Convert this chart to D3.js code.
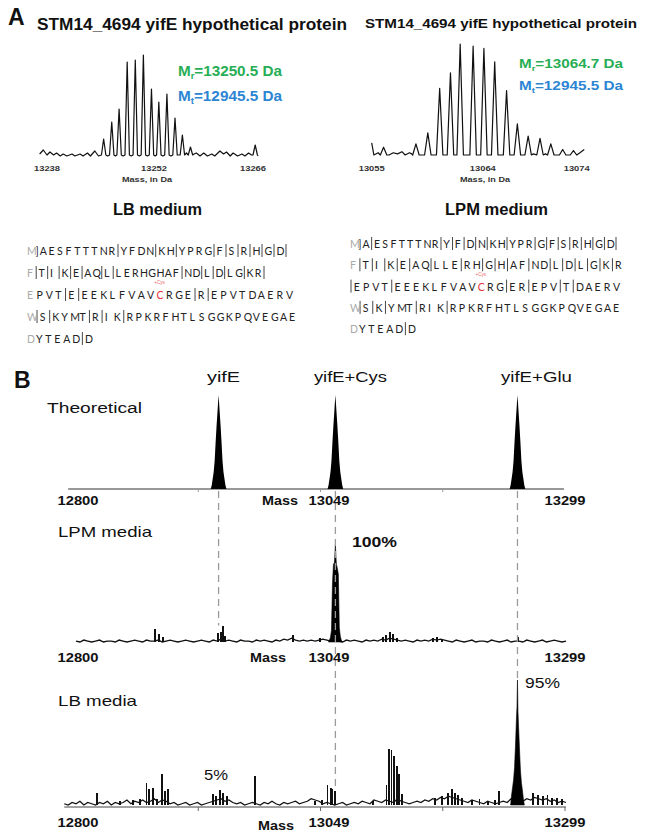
<!DOCTYPE html>
<html>
<head>
<meta charset="utf-8">
<script src="https://cdn.jsdelivr.net/npm/d3@7"></script>
<style>
  body { margin: 0; background: #fff; }
  svg { display: block; }
  text { font-family: Arial, "Liberation Sans", sans-serif; }
</style>
</head>
<body>
<svg id="fig" width="645" height="837"></svg>
<script>
// ---------- panel A: isotope peaks and baseline ripple, [mass (Da), relative intensity] ----------
const lbIsotopes = [[13245.7,16],[13246.8,33],[13247.8,46],[13248.9,93],[13250.0,95],[13251.1,100],
  [13252.2,66],[13253.2,53],[13254.3,61],[13255.4,37],[13256.4,20],[13257.5,8],[13266.3,10]];
const lbRipple = [[13237.0,1],[13237.5,5],[13238.0,0],[13238.4,3],[13238.9,0],[13239.3,2],[13239.8,-1],
  [13240.2,1],[13240.7,-1],[13241.4,1],[13241.8,-1],[13242.5,1],[13242.9,-1],[13243.5,2],[13243.9,-1],
  [13244.5,4],[13245.0,-1],[13246.25,-1],[13247.3,-1],[13248.35,-1],[13249.45,-1],[13250.55,-1],
  [13251.65,-1],[13252.7,-1],[13253.75,-1],[13254.85,-1],[13255.9,0],[13256.95,2],[13258.0,1],
  [13258.3,2],[13258.8,-1],[13259.3,2],[13259.8,-1],[13260.4,1],[13260.8,-1],[13261.5,4],[13262.0,1],
  [13262.4,3],[13262.9,-1],[13263.3,2],[13263.9,-1],[13264.5,1],[13264.9,-1],[13265.4,2],[13265.8,0],
  [13266.7,-1]];
const lpmIsotopes = [[13056.1,7],[13059.1,10],[13060.2,20],[13061.3,60],[13062.3,74],[13063.2,100],
  [13064.4,98],[13065.4,96],[13066.4,84],[13067.5,58],[13068.5,28],[13069.5,17],[13070.6,15],
  [13071.6,10],[13072.7,5],[13073.7,4]];
const lpmRipple = [[13055.0,11],[13055.2,0],[13055.6,2],[13056.6,0],[13057.0,2],[13057.4,1],[13057.8,3],
  [13058.1,0],[13058.5,2],[13058.7,1],[13059.6,0],[13060.7,0],[13061.8,0],[13062.8,0],[13063.8,0],
  [13064.9,0],[13065.9,0],[13066.9,0],[13068.0,0],[13069.0,0],[13070.0,1],[13071.1,1],[13072.1,0],
  [13073.2,0],[13074.0,0],[13074.3,2],[13074.7,5]];
const lbTicks = [13238, 13252, 13266];
const lpmTicks = [13055, 13064, 13074];
const proteinTitle = "STM14_4694 yifE hypothetical protein";
const lbMasses = ["13250.5", "12945.5"];
const lpmMasses = ["13064.7", "12945.5"];

// sequence coverage rows; "|" = fragment cleavage mark
const seqLB = [
  "M]AESFTTTNR|YFDN|KH|YPRG|F|S|R|H|G|D|",
  "F|T|I|K|E|AQ|L|LERHGHAF|ND|L|D|LG|KR|",
  "EPVT|E|EEKLFVAVCRGE|R|EPVTDAERV",
  "W|S|KYMT|R|IK|RPKRFHTLSGGKPQVEGAE",
  "DYTEAD|D"
];
const seqLPM = [
  "M]A|ESFTTTNR|Y|F|D|N|KH|YPR|G|F|S|R|H|G|D|",
  "F|T|I|K|E|AQ|LLE|RH|G|H|AF|ND|L|D|L|G|K|R",
  "|EPVT|EEEKLFVAVCRG|ER|EPV|T|DAERV",
  "W|S|K|YMT|RIK|RPKRFHTLSGGKPQVEGAE",
  "DYTEAD|D"
];

// ---------- panel B ----------
const massDomain = [12800, 13299];
const axisTicks = [12800, 13049, 13299];
const species = ["yifE", "yifE+Cys", "yifE+Glu"];
const speciesMass = [12945.5, 13064.7, 13250.5];
// theoretical isotope envelope, [offset (Da), relative intensity]
const theoEnvelope = [[-8,0],[-7,4],[-6,11],[-5,18],[-4,30],[-3,50],[-2,68],[-1,84],[-0.4,94],[0,100],
  [0.4,94],[1,84],[2,68],[3,50],[4,30],[5,18],[6,11],[7,4],[8,0]];

// LPM media: baseline every 4 Da from 12800, peaks, main yifE+Cys envelope
const lpmNoise = [
  1,0,2,1,0,1,2,0,1,1, 0,2,1,0,1,2,1,0,2,1, 1,2,0,1,2,1,0,1,2,1,
  0,1,2,1,0,2,1,3,1,2, 1,0,2,1,1,0,2,1,2,1, 0,2,1,3,2,4,2,1,2,1,
  2,1,2,3,2,1,2,1,0,2, 1,2,1,0,2,1,2,1,3,2, 4,3,2,1,2,1,0,2,1,2,
  1,3,2,3,2,1,0,2,1,0, 1,2,0,1,1,0,2,1,0,1, 2,0,1,1,0,2,1,0,1,2,
  0,1,2,1,0,1];
const lpmPeaks = [[12880.6,13],[12884.7,8],[12888.8,5],[12944.9,9],[12948.0,10],[12950.0,17],
  [12952.0,6],[13021.4,7],[13049.0,4],[13113.3,5],[13116.3,7],[13120.4,10],[13123.5,8],[13127.6,4],
  [13164.3,4],[13168.4,5],[13173.5,3],[13252.0,5]];
const lpmMain = [[-7,0],[-6,2],[-5,5],[-4,12],[-3,60],[-2,80],[-1,82],[0,100],[1,80],[2,76],
  [3,70],[4,15],[5,6],[6,2],[7,0]];

// LB media: baseline every 4 Da from 12788, peaks, main yifE+Glu envelope
const lbNoise = [
  1,0,2,1,3,0,2,1,0,2, 1,3,0,2,1,2,4,1,3,2, 4,2,3,5,2,4,3,1,2,0,
  1,2,0,1,2,0,1,2,3,4, 5,3,4,2,1,2,0,1,2,1, 0,2,1,3,1,0,2,1,2,3,
  1,2,3,5,4,3,1,2,1,0, 1,2,0,1,2,1,3,2,1,4, 3,2,4,3,2,5,3,2,1,2,
  3,2,4,3,5,4,6,5,7,6, 5,4,3,2,4,3,2,1,3,2, 1,2,3,2,5,6,4,3,5,4,
  6,5,4,5,3,4,2,3,2];
const lbPeaks = [[12821.4,10],[12844.9,3],[12858.2,4],[12865.3,5],[12872.4,18],[12874.5,13],
  [12878.6,14],[12882.7,5],[12887.8,25],[12890.8,11],[12893.9,13],[12939.8,9],[12942.9,7],
  [12946.9,12],[12950.0,10],[12954.1,7],[12982.7,23],[13043.9,3],[13051.0,4],[13057.1,16],
  [13060.2,14],[13062.2,13],[13064.3,11],[13103.1,3],[13117.3,16],[13119.4,45],[13122.4,44],
  [13124.5,39],[13127.6,31],[13129.6,25],[13132.7,9],[13166.3,6],[13173.5,7],[13179.6,10],
  [13183.7,13],[13186.7,10],[13189.8,8],[13193.9,6],[13204.1,4],[13212.2,5],[13220.4,3],
  [13227.6,4],[13231.6,11],[13266.3,10],[13271.4,8],[13276.5,7],[13281.6,8],[13285.7,6],
  [13290.8,6],[13295.9,5]];
const lbMain = [[-7,0],[-6,8],[-5,14],[-4,20],[-3,30],[-2,48],[-1,70],[-0.5,78],[0,100],
  [0.5,75],[1,65],[2,46],[3,28],[4,18],[5,12],[6,5],[7,0]];

const svg = d3.select("#fig");

function txt(x, y, s, o = {}) {
  const t = svg.append("text")
    .attr("x", x).attr("y", y)
    .attr("font-size", o.size || 12)
    .attr("font-weight", o.bold ? "bold" : "normal")
    .attr("fill", o.fill || "#111")
    .attr("text-anchor", o.anchor || "start")
    .text(s);
  if (o.w) t.attr("textLength", o.w).attr("lengthAdjust", "spacingAndGlyphs");
  return t;
}

function massText(x, y, sub, val, fill, size, w) {
  const t = svg.append("text").attr("x", x).attr("y", y)
    .attr("font-size", size).attr("font-weight", "bold").attr("fill", fill);
  t.append("tspan").text("M");
  t.append("tspan").attr("font-size", size * 0.62).attr("dy", 3).text(sub);
  t.append("tspan").attr("dy", -3).text("=" + val + " Da");
  t.attr("textLength", w).attr("lengthAdjust", "spacingAndGlyphs");
}

// ====================== Panel A ======================
txt(8, 25, "A", {size: 23, bold: true});
txt(37, 30, proteinTitle, {size: 16, bold: true, w: 310});
txt(365, 28, proteinTitle, {size: 13, bold: true, w: 272});

// each isotope peak is drawn as a narrow spike of this half width (Da)
const spikeHalf = 0.3;

function isoPanel(peaks, ripple, ticks, dom, xr, yr, tickNudge, massX, masses, mx, my) {
  const x = d3.scaleLinear().domain(dom).range(xr);
  const y = d3.scaleLinear().domain([0, 100]).range(yr);
  const pts = ripple.concat(peaks.flatMap(d => [[d[0] - spikeHalf, 0], d, [d[0] + spikeHalf, 0]]))
    .sort((a, b) => a[0] - b[0]);
  svg.append("path").datum(pts)
    .attr("d", d3.line().x(d => x(d[0])).y(d => y(d[1])))
    .attr("fill", "none").attr("stroke", "#111").attr("stroke-width", 1.2)
    .attr("stroke-linejoin", "round");
  svg.append("g").selectAll("text").data(ticks).join("text")
    .attr("x", (d, i) => x(d) + tickNudge[i]).attr("y", 171)
    .attr("text-anchor", "middle").attr("font-size", 7.5).attr("font-weight", "bold")
    .attr("fill", "#333").attr("textLength", 26).attr("lengthAdjust", "spacingAndGlyphs")
    .text(d => d);
  txt(massX, yr[0] + 27, "Mass, in Da", {size: 7.5, bold: true, fill: "#333", anchor: "middle", w: 50});
  massText(mx, my[0], "r", masses[0], "#27ae55", my[2], 104);
  massText(mx, my[1], "t", masses[1], "#2b85d3", my[2], 104);
}

isoPanel(lbIsotopes, lbRipple, lbTicks, [13238, 13266], [47, 253], [155, 55], [0, 4, 0], 147,
  lbMasses, 178, [76, 101, 14.5]);
isoPanel(lpmIsotopes, lpmRipple, lpmTicks, [13055, 13074], [371.7, 576.7], [155, 44], [0, 14, 0], 485,
  lpmMasses, 519, [68, 90, 13]);

txt(113, 215, "LB medium", {size: 16, bold: true, w: 89});
txt(445, 215, "LPM medium", {size: 16, bold: true, w: 103});

function seqBlock(rows, x0, y0, dy, widths) {
  rows.forEach((row, r) => {
    const chars = row.split("");
    const units = chars.map(c => c === "|" ? 0.4 : (c === "]" ? 0.5 : 1));
    const u = (widths[r] - 7) / d3.sum(units.slice(0, -1));
    let acc = 0;
    const items = chars.map((c, i) => {
      const it = {c, x: x0 + acc * u, first: i === 0};
      acc += units[i];
      return it;
    });
    const y = y0 + r * dy;
    svg.append("g").selectAll("line").data(items.filter(d => d.c === "|")).join("line")
      .attr("x1", d => d.x + 1).attr("x2", d => d.x + 1)
      .attr("y1", y + 2).attr("y2", y - 11)
      .attr("stroke", "#333").attr("stroke-width", 0.9);
    svg.append("text").attr("y", y).attr("font-size", 10.5)
      .style("font-family", "Lato, 'Open Sans', sans-serif")
      .selectAll("tspan").data(items.filter(d => d.c !== "|")).join("tspan")
      .attr("x", d => d.x)
      .attr("fill", d => d.first ? "#aaa" : (d.c === "C" ? "#e8303a" : "#222"))
      .text(d => d.c);
    const cys = items.find(d => d.c === "C");
    if (cys) {
      txt(cys.x + 3, y - 15, "+Cys", {size: 4.5, fill: "#e66", anchor: "middle"});
    }
  });
}

seqBlock(seqLB, 27, 255, 22, [265, 243, 266, 269, 65]);
seqBlock(seqLPM, 350, 248, 21.3, [272, 272, 270, 270, 65]);

// ====================== Panel B ======================
txt(14, 388, "B", {size: 23, bold: true});

const bx = d3.scaleLinear().domain(massDomain).range([76, 565]);
const yTheo = d3.scaleLinear().domain([0, 100]).range([489, 395]);
const yLpm = d3.scaleLinear().domain([0, 100]).range([642, 545]);
const yLb = d3.scaleLinear().domain([0, 100]).range([805, 680]);
const quarterTicks = d3.range(5).map(i => massDomain[0] + i * (massDomain[1] - massDomain[0]) / 4);

// species labels
const labelNudge = [5, 15, 19];
const labelW = [33, 73, 71];
svg.append("g").selectAll("text").data(species).join("text")
  .attr("x", (d, i) => bx(speciesMass[i]) + labelNudge[i]).attr("y", 382)
  .attr("text-anchor", "middle").attr("font-size", 14).attr("fill", "#111")
  .attr("textLength", (d, i) => labelW[i]).attr("lengthAdjust", "spacingAndGlyphs")
  .text(d => d);

txt(47, 413, "Theoretical", {size: 15.5, w: 95});
txt(58, 537, "LPM media", {size: 14.5, w: 94});
txt(58, 706, "LB media", {size: 15, w: 79});

// theoretical spectrum
svg.append("line").attr("x1", bx(12792)).attr("x2", bx(13298))
  .attr("y1", yTheo(0)).attr("y2", yTheo(0)).attr("stroke", "#333").attr("stroke-width", 1);
svg.append("g").selectAll("line").data(quarterTicks.slice(1, 4)).join("line")
  .attr("x1", d => bx(d)).attr("x2", d => bx(d))
  .attr("y1", yTheo(0)).attr("y2", yTheo(0) + 3).attr("stroke", "#999");
const theoArea = m => d3.area().x(d => bx(m + d[0])).y0(yTheo(0)).y1(d => yTheo(d[1]));
svg.append("g").selectAll("path").data(speciesMass).join("path")
  .attr("d", m => theoArea(m)(theoEnvelope)).attr("fill", "#000");

function measured(noise, start, peaks, main, mainMass, y) {
  const pts = noise.map((v, i) => [start + 4 * i, v]);
  svg.append("path").datum(pts)
    .attr("d", d3.line().x(d => bx(d[0])).y(d => y(d[1])))
    .attr("fill", "none").attr("stroke", "#111").attr("stroke-width", 1.3);
  svg.append("g").selectAll("line").data(peaks).join("line")
    .attr("x1", d => bx(d[0])).attr("x2", d => bx(d[0]))
    .attr("y1", y(0)).attr("y2", d => y(d[1]))
    .attr("stroke", "#111").attr("stroke-width", 1.1)
    .attr("shape-rendering", "crispEdges");
  svg.append("path").datum(main)
    .attr("d", d3.area().x(d => bx(mainMass + d[0])).y0(y(0)).y1(d => y(d[1])))
    .attr("fill", "#000").attr("stroke", "#000").attr("stroke-width", 0.6);
}

measured(lpmNoise, 12800, lpmPeaks, lpmMain, speciesMass[1], yLpm);
measured(lbNoise, 12788, lbPeaks, lbMain, speciesMass[2], yLb);

// LB axis line with ticks
svg.append("line").attr("x1", bx(12788)).attr("x2", bx(13300))
  .attr("y1", yLb(0) + 2).attr("y2", yLb(0) + 2).attr("stroke", "#444");
svg.append("g").selectAll("line").data(quarterTicks.slice(1)).join("line")
  .attr("x1", d => bx(d)).attr("x2", d => bx(d))
  .attr("y1", yLb(0) + 2).attr("y2", yLb(0) + 6).attr("stroke", "#666");

// dashed guides from theoretical peaks down to measured spectra
const guideEnds = [yLpm(17), yLb(14), yLb(100)];
svg.append("g").selectAll("line").data(speciesMass).join("line")
  .attr("x1", d => bx(d)).attr("x2", d => bx(d))
  .attr("y1", yTheo(0) + 2).attr("y2", (d, i) => guideEnds[i])
  .attr("stroke", "#9a9a9a").attr("stroke-width", 1.3).attr("stroke-dasharray", "7,5");

// mass axis labels
const tickNudge = [2, 9, 0];
function massAxisLabels(yBase, massX, massY) {
  svg.append("g").selectAll("text").data(axisTicks).join("text")
    .attr("x", (d, i) => bx(d) + tickNudge[i]).attr("y", yBase)
    .attr("text-anchor", "middle").attr("font-size", 12).attr("font-weight", "bold")
    .attr("fill", "#111").attr("textLength", 41).attr("lengthAdjust", "spacingAndGlyphs")
    .text(d => d);
  txt(massX, massY, "Mass", {size: 12, bold: true, anchor: "middle", w: 36});
}
massAxisLabels(505, 280, 505);
massAxisLabels(662, 268, 662);
massAxisLabels(827, 276, 830);

txt(352, 547, "100%", {size: 15, bold: true, w: 45});
txt(525, 688, "95%", {size: 15, w: 35});
txt(204, 780, "5%", {size: 15, w: 24});
</script>
</body>
</html>
